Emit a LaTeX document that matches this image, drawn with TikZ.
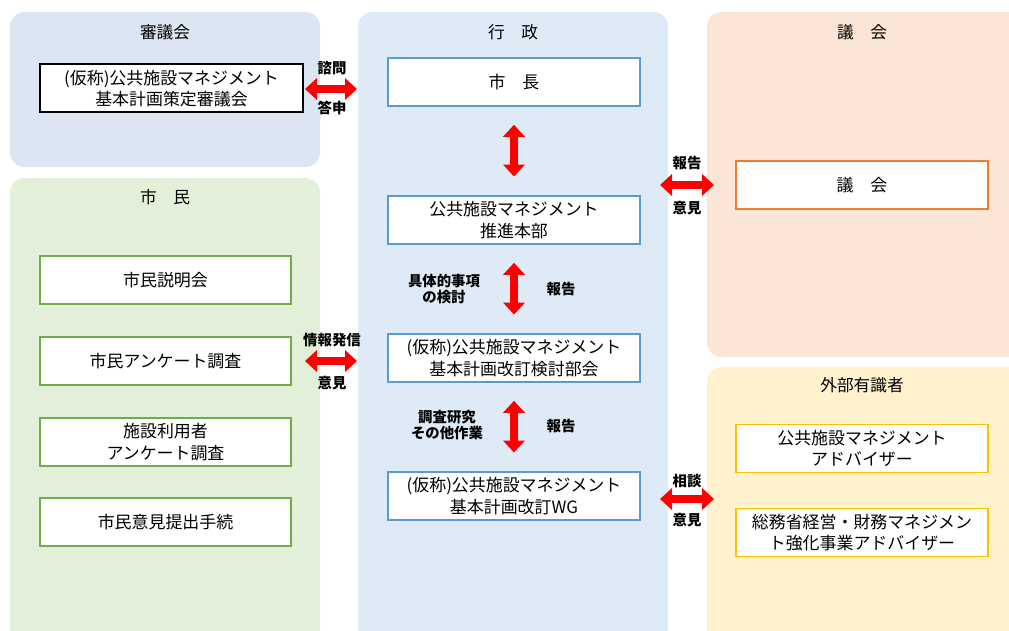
\documentclass[tikz,border=0pt]{standalone}
\usepackage{fontspec}
\setmainfont{Noto Sans CJK JP}
\usetikzlibrary{arrows.meta}
\definecolor{pShin}{HTML}{DCE6F2}
\definecolor{pGyo}{HTML}{DEEBF7}
\definecolor{pShi}{HTML}{E2F0D9}
\definecolor{pGi}{HTML}{FBE5D6}
\definecolor{pGai}{HTML}{FFF2CC}
\definecolor{bBlue}{HTML}{5B9BD5}
\definecolor{bGreen}{HTML}{70AD47}
\definecolor{bOrange}{HTML}{ED7D31}
\definecolor{bGold}{HTML}{FFC000}
\definecolor{aRed}{HTML}{FF0000}
\begin{document}
\begin{tikzpicture}[x=0.75pt,y=-0.75pt,
  titletext/.style={font=\fontsize{12.5}{15}\selectfont, anchor=center},
  boxnode/.style={draw, fill=white, line width=1.2pt, align=center, inner sep=0pt,
     minimum width=189pt, minimum height=36pt, font=\fontsize{12.7}{16}\selectfont},
  lbl/.style={font=\bfseries\fontsize{10.8}{12.5}\selectfont, align=center, inner sep=0pt},
  dbl/.style={aRed, line width=6pt, {Triangle[length=9pt,width=16pt]}-{Triangle[length=9pt,width=16pt]}}
]
\useasboundingbox (0,0) rectangle (1009,631);
\clip (0,0) rectangle (1009,631);
% panels
\fill[pShin, rounded corners=11pt] (10,12) rectangle (320,167);
\fill[pShi, rounded corners=11pt] (10,178) rectangle (320,660);
\fill[pGyo, rounded corners=11pt] (358,12) rectangle (668,660);
\fill[pGi, rounded corners=11pt] (707,12) rectangle (1040,357);
\fill[pGai, rounded corners=11pt] (707,367) rectangle (1040,660);
% titles
\node[titletext] (tShin) at (165,32) {審議会};
\node[titletext] (tGyo) at (513,32) {行　政};
\node[titletext] (tGi) at (862,32) {議　会};
\node[titletext] (tShi) at (165,197) {市　民};
\node[titletext] (tGai) at (862,385) {外部有識者};
% boxes
\node[boxnode, draw=black, line width=1.5pt, minimum width=197pt] (shin) at (171.5,88.5) {(仮称)公共施設マネジメント\\基本計画策定審議会};
\node[boxnode, draw=bBlue] (mayor) at (514,82) {市　長};
\node[boxnode, draw=bBlue] (honbu) at (514,220) {公共施設マネジメント\\推進本部};
\node[boxnode, draw=bBlue] (bukai) at (514,358) {(仮称)公共施設マネジメント\\基本計画改訂検討部会};
\node[boxnode, draw=bBlue] (wg) at (514,496) {(仮称)公共施設マネジメント\\基本計画改訂WG};
\node[boxnode, draw=bOrange] (gikai) at (862,185) {議　会};
\node[boxnode, draw=bGreen, minimum width=188pt] (s1) at (165.5,280) {市民説明会};
\node[boxnode, draw=bGreen, minimum width=188pt] (s2) at (165.5,361) {市民アンケート調査};
\node[boxnode, draw=bGreen, minimum width=188pt] (s3) at (165.5,442) {施設利用者\\アンケート調査};
\node[boxnode, draw=bGreen, minimum width=188pt] (s4) at (165.5,522) {市民意見提出手続};
\node[boxnode, draw=bGold] (g1) at (862,448.5) {公共施設マネジメント\\アドバイザー};
\node[boxnode, draw=bGold] (g2) at (862,532.5) {総務省経営・財務マネジメン\\ト強化事業アドバイザー};
% anchor coordinates for arrows
\coordinate (aL1) at (305,89); \coordinate (aR1) at (357,89);
\coordinate (aL2) at (305,361); \coordinate (aR2) at (357,361);
\coordinate (aL3) at (660,185); \coordinate (aR3) at (714,185);
\coordinate (aL4) at (660,499); \coordinate (aR4) at (714,499);
% arrows
\draw[dbl] (aL1) -- (aR1);
\draw[dbl] (aL2) -- (aR2);
\draw[dbl] (aL3) -- (aR3);
\draw[dbl] (aL4) -- (aR4);
\draw[dbl, shorten <=13.5pt, shorten >=14pt] (mayor.south) -- (honbu.north);
\draw[dbl, shorten <=13.5pt, shorten >=14pt] (honbu.south) -- (bukai.north);
\draw[dbl, shorten <=13.5pt, shorten >=14pt] (bukai.south) -- (wg.north);
% labels
\node[lbl] (l1a) at (332,68) {諮問};
\node[lbl] (l1b) at (332,108) {答申};
\node[lbl] (l2a) at (332,340) {情報発信};
\node[lbl] (l2b) at (332,383) {意見};
\node[lbl] (l3a) at (687,163) {報告};
\node[lbl] (l3b) at (687,208) {意見};
\node[lbl] (l4a) at (687,481) {相談};
\node[lbl] (l4b) at (687,520) {意見};
\node[lbl] (l5a) at (444,289) {具体的事項\\の検討};
\node[lbl] (l5b) at (561,289) {報告};
\node[lbl] (l6a) at (447,425) {調査研究\\その他作業};
\node[lbl] (l6b) at (561,426) {報告};
\end{tikzpicture}
\end{document}
